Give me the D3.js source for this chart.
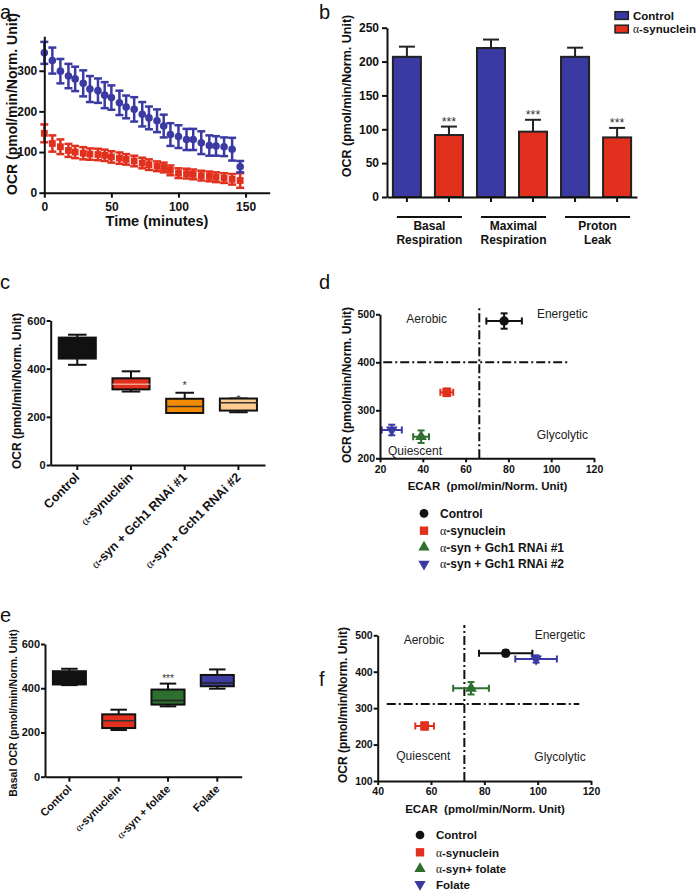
<!DOCTYPE html>
<html><head><meta charset="utf-8">
<script src="https://cdn.jsdelivr.net/npm/d3@7"></script>
<style>body{margin:0;background:#fff} svg{display:block}</style>
</head><body><svg id="c" width="698" height="891"></svg>
<script>
// ---------- DATA ----------
// Panel a: time course
const timeA = [0,6,12,18,23,29,34,40,45,50,56,61,67,73,78,84,89,94,100,106,111,117,123,128,134,140,146];
const ctrlA = [344,325,299,287,280,269,255,251,240,234,221,211,205,193,184,177,164,143,138,131,131,123,116,115,113,107,64];
const ctrlAErr = [27,32,30,30,30,32,32,30,32,30,30,28,30,30,28,28,28,28,28,26,26,28,25,24,23,28,14];
const synA = [146,121,113,104,100,97,95,94,92,88,85,82,78,73,69,65,62,55,48,47,45,42,40,38,36,33,30];
const synAErr = [22,20,18,16,15,15,14,14,14,14,14,13,13,13,13,12,12,12,12,12,12,12,12,12,12,13,18];
const ticksAx = [0,50,100,150];
const ticksAy = [0,100,200,300];

// Panel b: bars
const groupsB = ["Basal|Respiration","Maximal|Respiration","Proton|Leak"];
const seriesB = ["Control","α-synuclein"];
const ctrlB = [207,220,207];
const ctrlBErr = [15,12.5,13.5];
const synB = [91.5,96.5,88];
const synBErr = [12.5,17.5,14];
const ticksBy = [0,50,100,150,200,250];

// Panel c: box plots (min, q1, median, q3, max)
const catsC = ["Control","α-synuclein","α-syn + Gch1 RNAi #1","α-syn + Gch1 RNAi #2"];
const minC = [416,305,216,219];
const q1C = [442,314,216,226];
const medC = [480,335,243,258];
const q3C = [529,360,275,276];
const maxC = [541,389,300,276];
const starsC = ["","","*","*"];
const ticksCy = [0,200,400,600];

// Panel d: energy map
const labelsD = ["Control","α-synuclein","α-syn + Gch1 RNAi #1","α-syn + Gch1 RNAi #2"];
const ecarD = [78,51.2,39.2,25.5];
const ecarDErr = [8.3,3,3.7,4.7];
const ocrD = [486,337.5,245,259];
const ocrDErr = [16,8,13,11];
const ticksDx = [20,40,60,80,100,120];
const ticksDy = [200,300,400,500];

// Panel e: box plots
const catsE = ["Control","α-synuclein","α-syn + folate","Folate"];
const minE = [414,211,318,398];
const q1E = [417,220,326,409];
const medE = [445,253,345,424];
const q3E = [477,282,394,460];
const maxE = [488,303,421,485];
const starsE = ["","","***",""];
const ticksEy = [0,200,400,600];

// Panel f: energy map
const labelsF = ["Control","α-synuclein","α-syn+ folate","Folate"];
const ecarF = [88,57.6,75,99.4];
const ecarFErr = [10,3.5,6.7,7.8];
const ocrF = [450.7,251,354.6,435];
const ocrFErr = [8,10,17,10];
const ticksFx = [40,60,80,100,120];
const ticksFy = [100,200,300,400,500];

// ---------- STYLE ----------
const FONT = "'Liberation Sans', Arial, sans-serif";
const SERIF = "'Liberation Serif','DejaVu Serif',serif";
const BLUE = "#3b3aa3", RED = "#e2301f", GREEN = "#2e6e2f", ORANGE = "#f28a00", PEACH = "#fdcb8e", BLACK = "#111";
const svg = d3.select("#c").attr("font-family", FONT);

function rich(t, str) {
  str.split("α").forEach((p, i) => {
    if (i > 0) t.append("tspan").attr("font-family", SERIF).attr("font-weight", "normal").text("α");
    if (p) t.append("tspan").text(p);
  });
  return t;
}
function txt(x, y, str, o = {}) {
  const t = svg.append("text").attr("x", x).attr("y", y)
    .attr("font-size", o.size || 12).attr("font-weight", o.weight || "bold")
    .attr("text-anchor", o.anchor || "start").attr("fill", o.fill || BLACK)
    .style("white-space", "pre");
  if (o.transform) t.attr("transform", o.transform);
  if (o.dy) t.attr("dy", o.dy);
  return rich(t, str);
}
function ylab(x, y, str, size) {
  return txt(0, 0, str, {size, anchor: "middle", dy: "0.35em", transform: `translate(${x},${y}) rotate(-90)`});
}
function styleAxis(g, fs) {
  g.attr("font-family", FONT).attr("font-size", fs).attr("font-weight", "bold");
  g.selectAll("path.domain").attr("stroke", BLACK).attr("stroke-width", 2);
  g.selectAll(".tick line").attr("stroke", BLACK).attr("stroke-width", 2);
  g.selectAll(".tick text").attr("fill", BLACK);
}
function vErr(g, x, y1, y2, cap, color, w = 2) {
  g.append("line").attr("x1", x).attr("x2", x).attr("y1", y1).attr("y2", y2).attr("stroke", color).attr("stroke-width", w);
  [y1, y2].forEach(y => g.append("line").attr("x1", x - cap / 2).attr("x2", x + cap / 2).attr("y1", y).attr("y2", y).attr("stroke", color).attr("stroke-width", w));
}
function hErr(g, y, x1, x2, cap, color, w = 2) {
  g.append("line").attr("x1", x1).attr("x2", x2).attr("y1", y).attr("y2", y).attr("stroke", color).attr("stroke-width", w);
  [x1, x2].forEach(x => g.append("line").attr("x1", x).attr("x2", x).attr("y1", y - cap / 2).attr("y2", y + cap / 2).attr("stroke", color).attr("stroke-width", w));
}

// Panel letters
txt(0, 19, "a", {size: 20, weight: "normal"});
txt(319, 19, "b", {size: 20, weight: "normal"});
txt(0, 289, "c", {size: 20, weight: "normal"});
txt(319, 289, "d", {size: 20, weight: "normal"});
txt(0, 622, "e", {size: 20, weight: "normal"});
txt(319, 686, "f", {size: 20, weight: "normal"});

// ---------- PANEL A ----------
{
  const x = d3.scaleLinear([0, 168], [44.3, 269.7]);
  const y = d3.scaleLinear([0, 385], [192.7, 36.2]);
  const g = svg.append("g");
  synA.forEach((v, i) => vErr(g, x(timeA[i]), y(v - synAErr[i]), y(v + synAErr[i]), 8, RED, 2.5));
  g.selectAll("rect.sa").data(synA).join("rect").attr("class", "sa")
    .attr("x", (d, i) => x(timeA[i]) - 3.4).attr("y", d => y(d) - 3.4).attr("width", 6.8).attr("height", 6.8).attr("fill", RED);
  ctrlA.forEach((v, i) => vErr(g, x(timeA[i]), y(v - ctrlAErr[i]), y(v + ctrlAErr[i]), 8, BLUE, 2.5));
  g.selectAll("circle.ca").data(ctrlA).join("circle").attr("class", "ca")
    .attr("cx", (d, i) => x(timeA[i])).attr("cy", d => y(d)).attr("r", 3.8).attr("fill", BLUE);
  styleAxis(svg.append("g").attr("transform", "translate(0,192.7)")
    .call(d3.axisBottom(x).tickValues(ticksAx).tickSize(5).tickSizeOuter(0).tickPadding(5)), 12);
  styleAxis(svg.append("g").attr("transform", "translate(44.3,0)")
    .call(d3.axisLeft(y).tickValues(ticksAy).tickSize(5).tickSizeOuter(0).tickPadding(2)), 12);
  txt(157, 226, "Time (minutes)", {size: 14.5, anchor: "middle"});
  ylab(12, 104, "OCR (pmol/min/Norm. Unit)", 14);
}

// ---------- PANEL B ----------
{
  const keys = [];
  groupsB.forEach(gname => seriesB.forEach(s => keys.push(gname + "#" + s)));
  const x = d3.scaleBand(keys, [387, 637]).paddingInner(0.333).paddingOuter(0.14);
  const y = d3.scaleLinear([0, 250], [197, 27.7]);
  const g = svg.append("g");
  const bars = [];
  groupsB.forEach((gname, i) => {
    bars.push({k: gname + "#Control", v: ctrlB[i], e: ctrlBErr[i], c: BLUE, star: false});
    bars.push({k: gname + "#α-synuclein", v: synB[i], e: synBErr[i], c: RED, star: true});
  });
  bars.forEach(b => {
    const cx = x(b.k) + x.bandwidth() / 2;
    g.append("line").attr("x1", cx).attr("x2", cx).attr("y1", y(b.v)).attr("y2", y(b.v + b.e)).attr("stroke", "#222").attr("stroke-width", 2);
    g.append("line").attr("x1", cx - 8).attr("x2", cx + 8).attr("y1", y(b.v + b.e)).attr("y2", y(b.v + b.e)).attr("stroke", "#222").attr("stroke-width", 2);
  });
  g.selectAll("rect.bb").data(bars).join("rect").attr("class", "bb")
    .attr("x", d => x(d.k)).attr("y", d => y(d.v)).attr("width", x.bandwidth()).attr("height", d => y(0) - y(d.v))
    .attr("fill", d => d.c).attr("stroke", "#222").attr("stroke-width", 2);
  bars.filter(b => b.star).forEach(b => txt(x(b.k) + x.bandwidth() / 2, y(b.v + b.e) - 1, "***", {size: 12.5, weight: "normal", anchor: "middle", fill: "#333"}));
  styleAxis(svg.append("g").attr("transform", "translate(0,197)")
    .call(d3.axisBottom(x).tickSize(5).tickSizeOuter(0).tickFormat("")), 12);
  styleAxis(svg.append("g").attr("transform", "translate(387,0)")
    .call(d3.axisLeft(y).tickValues(ticksBy).tickSize(5).tickSizeOuter(0).tickPadding(3)), 12);
  groupsB.forEach(gname => {
    const x1 = x(gname + "#Control") + 4, x2 = x(gname + "#α-synuclein") + x.bandwidth() - 1;
    svg.append("line").attr("x1", x1).attr("x2", x2).attr("y1", 217).attr("y2", 217).attr("stroke", BLACK).attr("stroke-width", 2);
    const [l1, l2] = gname.split("|");
    txt((x1 + x2) / 2, 230, l1, {size: 12, anchor: "middle"});
    txt((x1 + x2) / 2, 243.5, l2, {size: 12, anchor: "middle"});
  });
  ylab(346.7, 96, "OCR (pmol/min/Norm. Unit)", 12.5);
  [[BLUE, seriesB[0], 11.7], [RED, seriesB[1], 25.2]].forEach(([c, s, yy]) => {
    svg.append("rect").attr("x", 615).attr("y", yy).attr("width", 13.3).attr("height", 7.7).attr("fill", c).attr("stroke", "#222").attr("stroke-width", 1.5);
    txt(633, yy + 8, s, {size: 11.5});
  });
}

// ---------- BOX PLOT helper ----------
function boxPanel(o) {
  const x = d3.scaleBand(o.cats, o.xr).paddingInner(o.pi).paddingOuter(o.po);
  const y = d3.scaleLinear([0, 600], o.yr);
  const g = svg.append("g");
  const bw = x.bandwidth();
  o.cats.forEach((c, i) => {
    const cx = x(c) + bw / 2;
    g.append("line").attr("x1", cx).attr("x2", cx).attr("y1", y(o.max[i])).attr("y2", y(o.min[i])).attr("stroke", BLACK).attr("stroke-width", 2);
    [o.max[i], o.min[i]].forEach(v => g.append("line").attr("x1", cx - bw / 4).attr("x2", cx + bw / 4).attr("y1", y(v)).attr("y2", y(v)).attr("stroke", BLACK).attr("stroke-width", 2));
    g.append("rect").attr("x", x(c)).attr("y", y(o.q3[i])).attr("width", bw).attr("height", Math.max(1, y(o.q1[i]) - y(o.q3[i])))
      .attr("fill", o.colors[i]).attr("stroke", BLACK).attr("stroke-width", 2);
    g.append("line").attr("x1", x(c)).attr("x2", x(c) + bw).attr("y1", y(o.med[i])).attr("y2", y(o.med[i])).attr("stroke", o.medColors[i]).attr("stroke-width", 1.5);
    if (o.stars[i]) txt(cx, o.starY(y(o.max[i]), i), o.stars[i], {size: o.starSize, weight: "normal", anchor: "middle", fill: "#333"});
  });
  styleAxis(svg.append("g").attr("transform", `translate(0,${o.yr[0]})`)
    .call(d3.axisBottom(x).tickSize(5).tickSizeOuter(0).tickFormat("")), o.fs);
  styleAxis(svg.append("g").attr("transform", `translate(${o.xr[0]},0)`)
    .call(d3.axisLeft(y).tickValues(o.yticks).tickSize(4).tickSizeOuter(0).tickPadding(1)), o.fs);
  o.cats.forEach(c => {
    const cx = x(c) + bw / 2;
    txt(0, 0, c, {size: o.xfs, anchor: "end", transform: `translate(${cx + 3},${o.yr[0] + 13}) rotate(-45)`});
  });
}
boxPanel({cats: catsC, xr: [50.7, 265], yr: [465, 320.5], pi: 0.31, po: 0.15, min: minC, q1: q1C, med: medC, q3: q3C, max: maxC,
  colors: [BLACK, RED, ORANGE, PEACH], medColors: [BLACK, "#f3a090", "#333", "#333"], stars: starsC, starSize: 11,
  starY: (yy, i) => i === 3 ? yy + 4 : yy - 4, yticks: ticksCy, fs: 11, xfs: 12.5});
ylab(16.7, 391, "OCR (pmol/min/Norm. Unit)", 12);
boxPanel({cats: catsE, xr: [45, 241.7], yr: [776.7, 644], pi: 0.33, po: 0.16, min: minE, q1: q1E, med: medE, q3: q3E, max: maxE,
  colors: [BLACK, RED, GREEN, "#3d3da0"], medColors: [BLACK, "#333", "#222", "#222"], stars: starsE, starSize: 10,
  starY: yy => yy - 2, yticks: ticksEy, fs: 11, xfs: 11});
ylab(13, 713, "Basal OCR (pmol/min/Norm. Unit)", 10.5);

// ---------- ENERGY MAP helper ----------
const colorsMap = [BLACK, RED, GREEN, BLUE];
const symbolsMap = [
  d3.symbol(d3.symbolCircle, 70)(),
  d3.symbol(d3.symbolSquare, 80)(),
  d3.symbol(d3.symbolTriangle, 60)(),
  d3.symbol(d3.symbolTriangle, 60)()
];
const rotMap = [0, 0, 0, 180];
function mapPanel(o) {
  const x = d3.scaleLinear(o.xd, o.xr);
  const y = d3.scaleLinear(o.yd, o.yr);
  const g = svg.append("g");
  const dash = "9,3,2,3";
  g.append("line").attr("x1", x(o.vx)).attr("x2", x(o.vx)).attr("y1", o.yr[0]).attr("y2", y(o.vTop)).attr("stroke", BLACK).attr("stroke-width", 2).attr("stroke-dasharray", dash);
  g.append("line").attr("x1", x(o.hFrom)).attr("x2", x(o.hTo)).attr("y1", y(o.hy)).attr("y2", y(o.hy)).attr("stroke", BLACK).attr("stroke-width", 2).attr("stroke-dasharray", dash);
  o.ecar.forEach((v, i) => {
    const c = colorsMap[i];
    hErr(g, y(o.ocr[i]), x(v - o.ecarErr[i]), x(v + o.ecarErr[i]), 7, c);
    vErr(g, x(v), y(o.ocr[i] - o.ocrErr[i]), y(o.ocr[i] + o.ocrErr[i]), 7, c);
    g.append("path").attr("d", symbolsMap[i]).attr("fill", c)
      .attr("transform", `translate(${x(v)},${y(o.ocr[i])}) rotate(${rotMap[i]})`);
  });
  styleAxis(svg.append("g").attr("transform", `translate(0,${o.yr[0]})`)
    .call(d3.axisBottom(x).tickValues(o.xticks).tickSize(4).tickSizeOuter(0).tickPadding(3)), 10.5);
  styleAxis(svg.append("g").attr("transform", `translate(${o.xr[0]},0)`)
    .call(d3.axisLeft(y).tickValues(o.yticks).tickSize(4).tickSizeOuter(0).tickPadding(1)), 10.5);
  o.quad.forEach(([s, qx, qy]) => txt(qx, qy + 4.3, s, {size: 12, weight: "normal", anchor: "middle", fill: "#222"}));
  txt(o.xlab[0], o.xlab[1], "ECAR  (pmol/min/Norm. Unit)", {size: 11.5, anchor: "middle"});
  ylab(o.ylab[0], o.ylab[1], "OCR (pmol/min/Norm. Unit)", 12);
  o.labels.forEach((s, i) => {
    const ly = o.legY[i];
    svg.append("path").attr("d", d3.symbol([d3.symbolCircle, d3.symbolSquare, d3.symbolTriangle, d3.symbolTriangle][i], [60, 70, 55, 55][i])())
      .attr("fill", colorsMap[i]).attr("transform", `translate(${o.legX},${ly}) rotate(${rotMap[i]})`);
    txt(o.legX + 16, ly + 4.2, s, {size: o.legFs});
  });
}
mapPanel({xd: [20, 120], xr: [380, 594], yd: [200, 500], yr: [458.3, 314.3],
  ecar: ecarD, ecarErr: ecarDErr, ocr: ocrD, ocrErr: ocrDErr,
  vx: 66.4, vTop: 513.7, hy: 400, hFrom: 21.5, hTo: 108.5, xticks: ticksDx, yticks: ticksDy,
  quad: [["Aerobic", 426.7, 318.3], ["Energetic", 562.3, 313.3], ["Glycolytic", 562.3, 435], ["Quiescent", 415, 450.7]],
  xlab: [487.5, 490], ylab: [346.7, 385], labels: labelsD, legX: 424, legY: [513.3, 530.7, 547.3, 564], legFs: 12});
mapPanel({xd: [40, 120], xr: [377.7, 591], yd: [100, 500], yr: [781, 635.3],
  ecar: ecarF, ecarErr: ecarFErr, ocr: ocrF, ocrErr: ocrFErr,
  vx: 72.5, vTop: 528, hy: 311.5, hFrom: 43.4, hTo: 115.6, xticks: ticksFx, yticks: ticksFy,
  quad: [["Aerobic", 424, 639.3], ["Energetic", 560, 634.3], ["Quiescent", 423.3, 756], ["Glycolytic", 560, 756.7]],
  xlab: [485, 813], ylab: [342.5, 705], labels: labelsF, legX: 420, legY: [835, 852.3, 868.8, 884.3], legFs: 11.5});
</script></body></html>
